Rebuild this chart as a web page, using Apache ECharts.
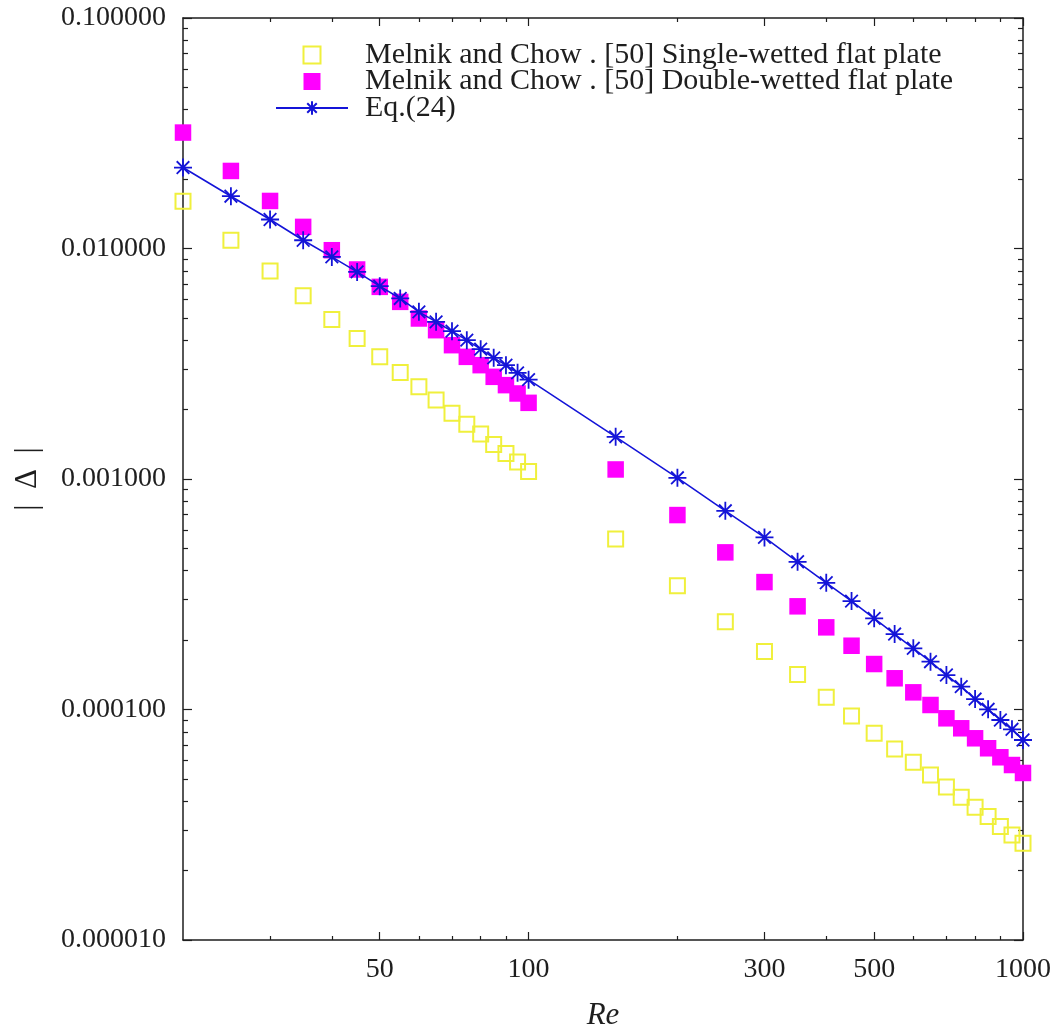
<!DOCTYPE html>
<html>
<head>
<meta charset="utf-8">
<title>|Δ| versus Re</title>
<script src="https://cdn.jsdelivr.net/npm/echarts@6/dist/echarts.min.js"></script>
<style>
  html, body { margin: 0; padding: 0; background: #ffffff; }
  #chart { width: 1061px; height: 1027px; }
</style>
</head>
<body>
<div id="chart"></div>
<script>
// Reynolds numbers at which |Δ| was evaluated
const reynolds = [20, 25, 30, 35, 40, 45, 50, 55, 60, 65, 70, 75, 80, 85, 90, 95, 100,
  150, 200, 250, 300, 350, 400, 450, 500, 550, 600, 650, 700, 750, 800, 850, 900, 950, 1000];

// Melnik and Chow [50], single-wetted flat plate
const singleWetted = [0.01604, 0.01086, 0.007996, 0.00623, 0.004921, 0.004071, 0.003388, 0.002899,
  0.002511, 0.002199, 0.001931, 0.00173, 0.001566, 0.001413, 0.001291, 0.001184, 0.001077,
  0.0005487, 0.0003443, 0.0002403, 0.0001784, 0.0001418, 0.0001129, 0.00009372, 0.00007884,
  0.00006742, 0.00005902, 0.000052, 0.00004612, 0.00004163, 0.00003766, 0.00003436, 0.00003109,
  0.00002856, 0.00002629];

// Melnik and Chow [50], double-wetted flat plate
const doubleWetted = [0.03184, 0.0217, 0.01608, 0.01241, 0.00983, 0.008108, 0.006817, 0.005868,
  0.00497, 0.004422, 0.003807, 0.003388, 0.003118, 0.002775, 0.002554, 0.00235, 0.00214,
  0.0011, 0.0006975, 0.0004805, 0.0003571, 0.0002803, 0.0002272, 0.0001891, 0.0001575,
  0.0001366, 0.0001187, 0.0001046, 0.00009158, 0.00008289, 0.00007501, 0.00006789, 0.00006205,
  0.00005743, 0.00005304];

// Eq.(24)
const eq24 = [0.02245, 0.01686, 0.01336, 0.01086, 0.009196, 0.007915, 0.006864, 0.006071,
  0.005311, 0.004805, 0.004378, 0.004002, 0.003659, 0.003354, 0.003118, 0.002887, 0.002698,
  0.001524, 0.001012, 0.0007278, 0.000558, 0.0004374, 0.0003546, 0.0002954, 0.0002486,
  0.0002125, 0.0001843, 0.0001612, 0.0001411, 0.0001256, 0.000111, 0.0001002, 0.00009005,
  0.00008205, 0.00007374];

const seriesNames = [
  'Melnik and Chow . [50] Single-wetted flat plate',
  'Melnik and Chow . [50] Double-wetted flat plate',
  'Eq.(24)'
];

// Axis ticks
const xMajorTicks = [50, 100, 300, 500, 1000];
const xMinorTicks = [30, 40, 60, 70, 80, 90, 200, 400, 600, 700, 800, 900];
const yMajorTicks = [0.00001, 0.0001, 0.001, 0.01, 0.1];
const yMinorTicks = [];
for (let d = 0; d < yMajorTicks.length - 1; d++) {
  for (let m = 2; m <= 9; m++) yMinorTicks.push(+(yMajorTicks[d] * m).toPrecision(3));
}

const FONT = 'Liberation Serif';
const INK = '#1e1e1e';

function pairs(ys) {
  return reynolds.map((re, i) => [re, ys[i]]);
}

// One log axis of the frame; several share each side so that major and
// minor ticks can have different lengths.
function logAxis(dim, position, ticks, tickLen, withLine, labels) {
  const isX = dim === 'x';
  const axis = {
    type: 'log',
    logBase: 10,
    gridIndex: 0,
    position: position,
    min: isX ? 20 : 0.00001,
    max: isX ? 1000 : 0.1,
    axisLine: { show: withLine, onZero: false, lineStyle: { color: INK, width: 1.5 } },
    axisTick: {
      show: true, inside: true, length: tickLen, customValues: ticks,
      lineStyle: { color: INK, width: 1.2 }
    },
    axisLabel: { show: false },
    splitLine: { show: false },
    minorTick: { show: false },
    minorSplitLine: { show: false }
  };
  if (labels) {
    axis.axisLabel = {
      show: true,
      customValues: ticks,
      fontFamily: FONT,
      fontSize: 28,
      color: INK,
      margin: isX ? 16 : 17,
      formatter: isX
        ? (v) => String(Math.round(v))
        : (v) => Number(v).toFixed(6)
    };
  }
  return axis;
}

const xAxes = [
  logAxis('x', 'bottom', xMajorTicks, 8, true, true),
  logAxis('x', 'bottom', xMinorTicks, 4, false, false),
  logAxis('x', 'top', xMajorTicks, 8, true, false),
  logAxis('x', 'top', xMinorTicks, 4, false, false)
];
Object.assign(xAxes[0], {
  name: 'Re',
  nameLocation: 'middle',
  nameGap: 60,
  nameTextStyle: { fontFamily: FONT, fontStyle: 'italic', fontSize: 31, color: INK }
});

const yAxes = [
  logAxis('y', 'left', yMajorTicks, 9, true, true),
  logAxis('y', 'left', yMinorTicks, 5, false, false),
  logAxis('y', 'right', yMajorTicks, 9, true, false),
  logAxis('y', 'right', yMinorTicks, 5, false, false)
];
Object.assign(yAxes[0], {
  name: '|\u2002Δ\u2002|',
  nameLocation: 'middle',
  nameRotate: 90,
  nameGap: 140,
  nameTextStyle: { fontFamily: FONT, fontSize: 31, color: INK }
});

const YELLOW = '#f0f03c';
const MAGENTA = '#ff00ff';
const BLUE = '#1414d8';
const SQUARE = 'path://M0,0H10V10H0Z';
const ASTERISK = 'path://M0,10L20,10M10,0L10,20M3,3L17,17M3,17L17,3';

const chart = echarts.init(document.getElementById('chart'), null, { renderer: 'canvas' });
chart.setOption({
  animation: false,
  backgroundColor: '#ffffff',
  grid: { left: 183, right: 38, top: 18, bottom: 87, outerBoundsMode: 'none' },
  xAxis: xAxes,
  yAxis: yAxes,
  legend: {
    left: 275,
    top: 40,
    orient: 'vertical',
    padding: 0,
    itemWidth: 72,
    itemHeight: 17,
    itemGap: -3.5,
    selectedMode: false,
    symbolKeepAspect: true,
    textStyle: { fontFamily: FONT, fontSize: 30, color: INK, padding: [0, 0, 0, 12] },
    data: seriesNames
  },
  series: [
    {
      name: seriesNames[0],
      type: 'scatter',
      xAxisIndex: 0, yAxisIndex: 0,
      symbol: SQUARE,
      symbolKeepAspect: true,
      symbolSize: 15,
      itemStyle: { color: 'rgba(255,255,255,0)', borderColor: YELLOW, borderWidth: 2, opacity: 1 },
      data: pairs(singleWetted)
    },
    {
      name: seriesNames[1],
      type: 'scatter',
      xAxisIndex: 0, yAxisIndex: 0,
      symbol: SQUARE,
      symbolKeepAspect: true,
      symbolSize: 16.5,
      itemStyle: { color: MAGENTA, opacity: 1 },
      data: pairs(doubleWetted)
    },
    {
      name: seriesNames[2],
      type: 'line',
      xAxisIndex: 0, yAxisIndex: 0,
      symbol: ASTERISK,
      symbolSize: 18,
      showSymbol: true,
      lineStyle: { color: BLUE, width: 1.6 },
      itemStyle: { color: BLUE, borderColor: BLUE, borderWidth: 1.8 },
      data: pairs(eq24)
    }
  ]
});
</script>
</body>
</html>
